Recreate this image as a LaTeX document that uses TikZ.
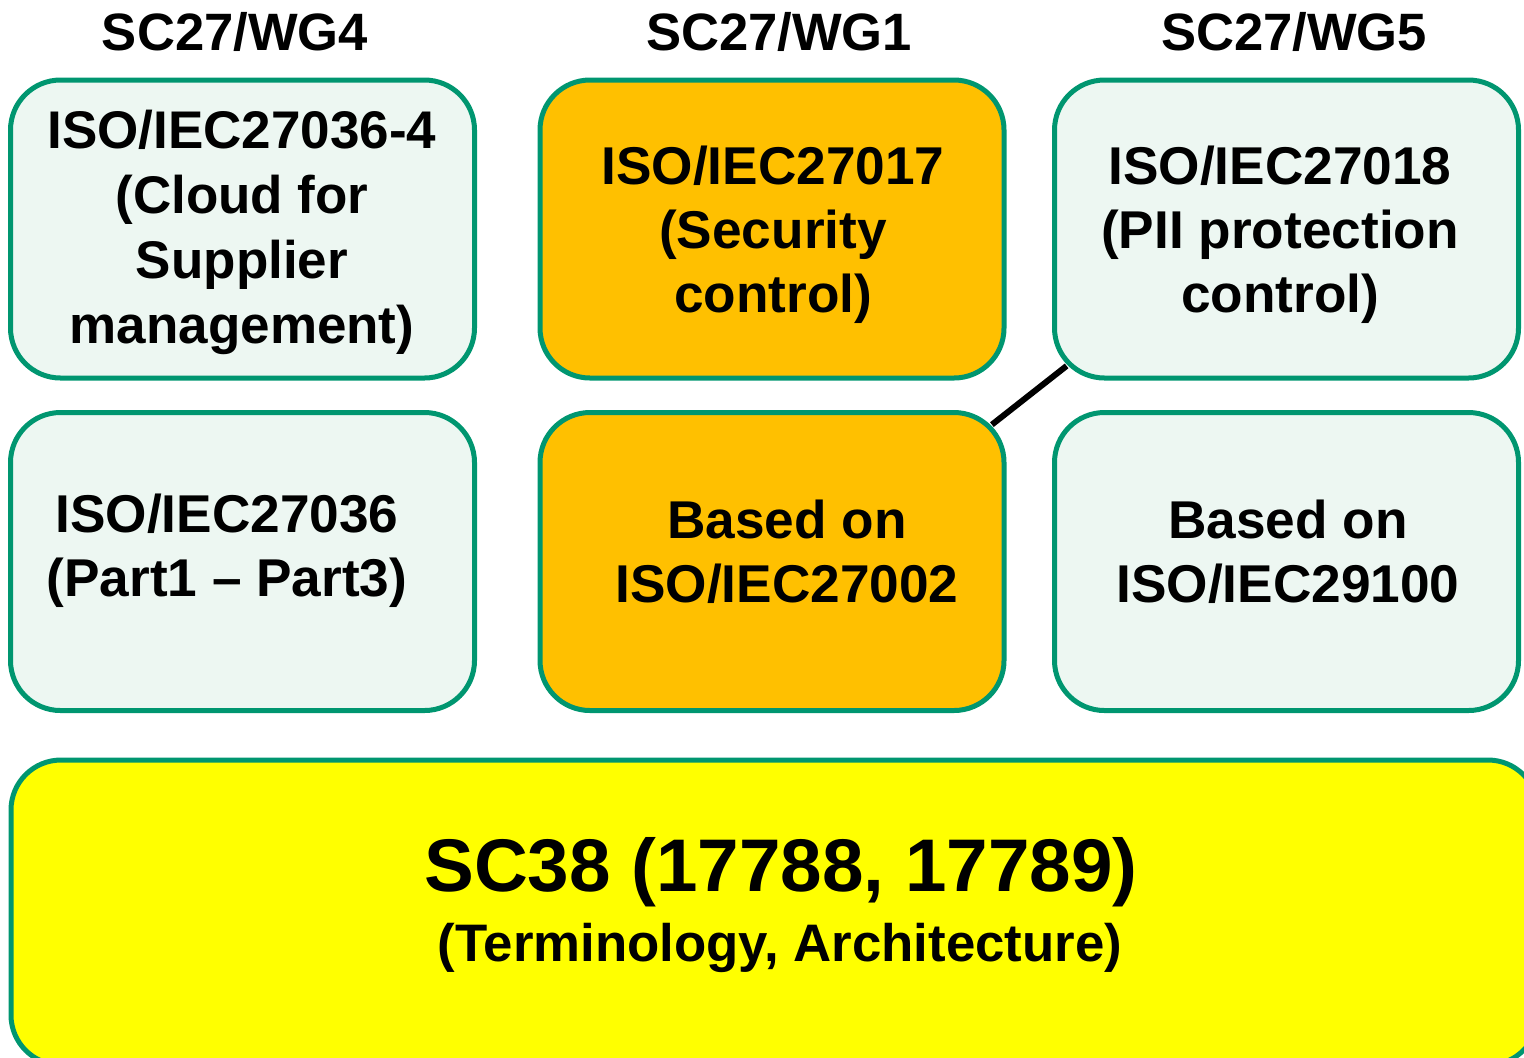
\documentclass[tikz,border=0pt]{standalone}
\usepackage{fontspec}
\setmainfont{Liberation Sans}
\usetikzlibrary{calc}
\definecolor{bordergreen}{RGB}{0,150,112}
\definecolor{lightfill}{RGB}{237,247,242}
\definecolor{orangefill}{RGB}{255,192,0}
\definecolor{yellowfill}{RGB}{255,255,0}
\tikzset{
  box/.style={draw=bordergreen, line width=2.5pt, rounded corners=25pt,
    minimum width=232pt, minimum height=149pt, inner sep=0pt},
  lightbox/.style={box, fill=lightfill},
  orangebox/.style={box, fill=orangefill},
  boxtext/.style={align=center, font=\fontsize{26.6pt}{32pt}\selectfont\bfseries, inner sep=0pt},
  header/.style={font=\fontsize{26.3pt}{32pt}\selectfont\bfseries, inner sep=0pt},
}
\begin{document}
\begin{tikzpicture}[x=0.5pt, y=-0.5pt]
\useasboundingbox (0,0) rectangle (1524,1057);
\clip (0,0) rectangle (1524,1057);
% headers
\node[header] (h1) at (235,32) {SC27/WG4};
\node[header] (h2) at (779,32) {SC27/WG1};
\node[header] (h3) at (1294,32) {SC27/WG5};
% boxes
\node[lightbox] (b1) at (242.5,229) {};
\node[orangebox] (b2) at (772,229) {};
\node[lightbox] (b3) at (1286.5,229) {};
\node[lightbox] (b4) at (242.5,561.5) {};
\node[orangebox] (b5) at (772,561.5) {};
\node[lightbox] (b6) at (1286.5,561.5) {};
\node[draw=bordergreen, line width=2.5pt, rounded corners=25pt, fill=yellowfill,
  minimum width=763.5pt, minimum height=152.5pt, inner sep=0pt] (b7) at (774.5,912.5) {};
% texts
\node[boxtext, font=\fontsize{26.5pt}{32.5pt}\selectfont\bfseries] (t1) at (242,232)
  {ISO/IEC27036-4\\(Cloud for\\Supplier\\management)};
\node[boxtext] (t2) at (773,235) {ISO/IEC27017\\(Security\\control)};
\node[boxtext] (t3) at (1280,235) {ISO/IEC27018\\(PII protection\\control)};
\node[boxtext] (t4) at (227,551) {ISO/IEC27036\\(Part1 -- Part3)};
\node[boxtext] (t5) at (787,552) {Based on\\ISO/IEC27002};
\node[boxtext] (t6) at (1288,552) {Based on\\ISO/IEC29100};
\node[inner sep=0pt, font=\fontsize{37.3pt}{44pt}\selectfont\bfseries] (t7) at (781,872)
  {SC38 (17788, 17789)};
\node[inner sep=0pt, font=\fontsize{26.4pt}{32pt}\selectfont\bfseries] (t8) at (780,948)
  {(Terminology, Architecture)};
% connector
\draw[line width=3pt, black] ($(b5.north east)+(-14.6,14.6)$) -- ($(b3.south west)+(14.6,-14.6)$);
\end{tikzpicture}
\end{document}
